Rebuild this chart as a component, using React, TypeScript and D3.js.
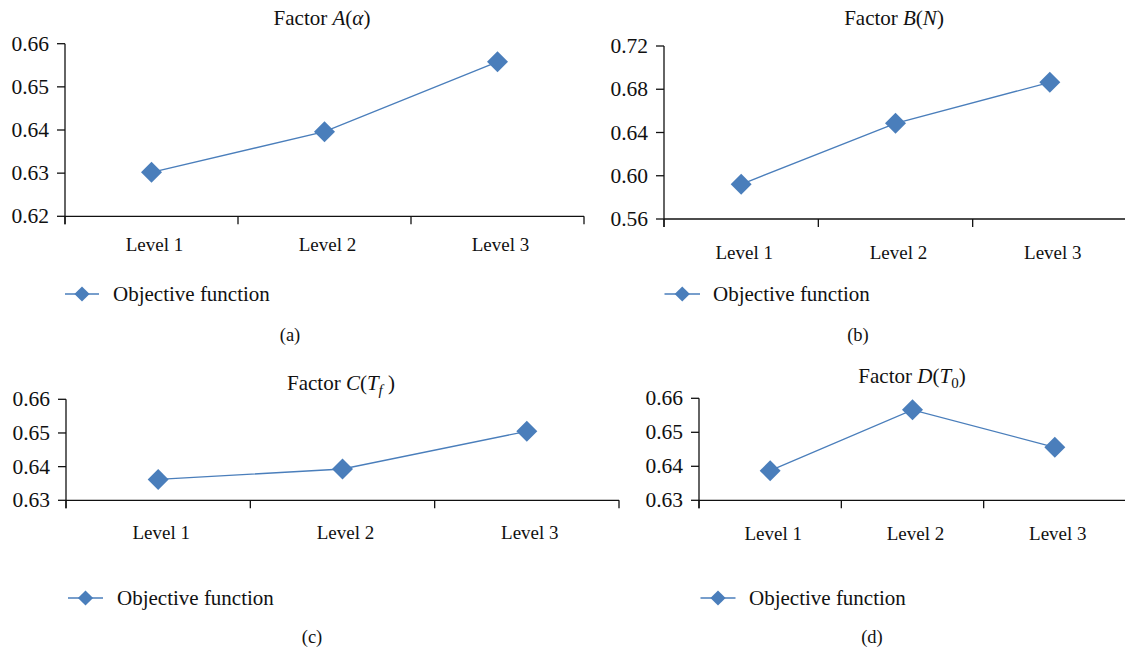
import React from "react";
import * as d3 from "d3";

const levels = ["Level 1", "Level 2", "Level 3"];
const valuesA = [0.6302, 0.6396, 0.6558];
const valuesB = [0.5921, 0.6485, 0.6864];
const valuesC = [0.6362, 0.6393, 0.6505];
const valuesD = [0.6387, 0.6566, 0.6456];
const ticksA = [0.62, 0.63, 0.64, 0.65, 0.66];
const ticksB = [0.56, 0.6, 0.64, 0.68, 0.72];
const ticksC = [0.63, 0.64, 0.65, 0.66];
const ticksD = [0.63, 0.64, 0.65, 0.66];
const legendLabel = "Objective function";
const captions = ["(a)", "(b)", "(c)", "(d)"];

const BLUE = "#4a7ebb";
const FONT = "'Liberation Serif', 'DejaVu Serif', serif";

type Layout = {
  x0: number; x1: number; yTop: number; yBot: number;
  levelY: number; legendY: number; legendX0: number; legendX1: number; legendTextX: number;
  titleX: number; titleY: number; capX: number; capY: number;
};

const layouts: Layout[] = [
  { x0: 65, x1: 584, yTop: 43.7, yBot: 216.3, levelY: 251, legendY: 294, legendX0: 65, legendX1: 99, legendTextX: 113, titleX: 322, titleY: 25, capX: 290, capY: 341 },
  { x0: 664, x1: 1127, yTop: 46, yBot: 219, levelY: 259, legendY: 294, legendX0: 664.5, legendX1: 700, legendTextX: 713, titleX: 894, titleY: 25, capX: 858, capY: 341 },
  { x0: 66, x1: 619, yTop: 399.3, yBot: 500.3, levelY: 539, legendY: 598, legendX0: 68, legendX1: 103, legendTextX: 117, titleX: 341, titleY: 390, capX: 312, capY: 643 },
  { x0: 699, x1: 1126, yTop: 398.3, yBot: 500.3, levelY: 540, legendY: 598, legendX0: 700.5, legendX1: 735.5, legendTextX: 749, titleX: 912, titleY: 383, capX: 872, capY: 643 },
];

const titles = [
  <>Factor <tspan fontStyle="italic">A</tspan>(<tspan fontStyle="italic">α</tspan>)</>,
  <>Factor <tspan fontStyle="italic">B</tspan>(<tspan fontStyle="italic">N</tspan>)</>,
  <>Factor <tspan fontStyle="italic">C</tspan>(<tspan fontStyle="italic">T</tspan><tspan fontStyle="italic" fontSize="15" dy="5">f</tspan><tspan dy="-5"> )</tspan></>,
  <>Factor <tspan fontStyle="italic">D</tspan>(<tspan fontStyle="italic">T</tspan><tspan fontSize="15" dy="5">0</tspan><tspan dy="-5">)</tspan></>,
];

const diamond = (size: number) => d3.symbol().type(d3.symbolSquare).size(size)() as string;

function Panel({ L, values, ticks, title, caption }: { L: Layout; values: number[]; ticks: number[]; title: React.ReactNode; caption: string }) {
  const x = d3.scaleBand<string>().domain(levels).range([L.x0, L.x1]).padding(0);
  const y = d3.scaleLinear().domain([ticks[0], ticks[ticks.length - 1]]).range([L.yBot, L.yTop]);
  const fmt = d3.format(".2f");
  const cx = (l: string) => (x(l) as number) + x.bandwidth() / 2;
  const line = d3.line<number>().x((_, i) => cx(levels[i])).y((v) => y(v));
  const boundaries = levels.map((l) => x(l) as number).concat([L.x1]);
  return (
    <g fontFamily={FONT} fill="#111">
      <text x={L.titleX} y={L.titleY} textAnchor="middle" fontSize={21}>{title}</text>
      {/* y axis */}
      <line x1={L.x0} x2={L.x0} y1={y(ticks[ticks.length - 1])} y2={L.yBot + 8} stroke="#111" strokeWidth={1.3} />
      {ticks.map((t) => (
        <g key={t}>
          <line x1={L.x0 - 8} x2={L.x0} y1={y(t)} y2={y(t)} stroke="#111" strokeWidth={1.3} />
          <text x={L.x0 - 16} y={y(t) + 7} textAnchor="end" fontSize={21.5}>{fmt(t)}</text>
        </g>
      ))}
      {/* x axis */}
      <line x1={L.x0} x2={L.x1} y1={L.yBot} y2={L.yBot} stroke="#111" strokeWidth={1.3} />
      {boundaries.map((b, i) => (
        <line key={i} x1={b} x2={b} y1={L.yBot} y2={L.yBot + 8} stroke="#111" strokeWidth={1.3} />
      ))}
      {levels.map((l) => (
        <text key={l} x={cx(l) + 3} y={L.levelY} textAnchor="middle" fontSize={19}>{l}</text>
      ))}
      {/* series */}
      <path d={line(values) as string} fill="none" stroke={BLUE} strokeWidth={1.3} />
      {values.map((v, i) => (
        <path key={i} d={diamond(220)} transform={`translate(${cx(levels[i])},${y(v)}) rotate(45)`} fill={BLUE} />
      ))}
      {/* legend */}
      <line x1={L.legendX0} x2={L.legendX1} y1={L.legendY} y2={L.legendY} stroke={BLUE} strokeWidth={1.3} />
      <path d={diamond(115)} transform={`translate(${(L.legendX0 + L.legendX1) / 2},${L.legendY}) rotate(45)`} fill={BLUE} />
      <text x={L.legendTextX} y={L.legendY + 7} fontSize={21}>{legendLabel}</text>
      <text x={L.capX} y={L.capY} textAnchor="middle" fontSize={18.5}>{caption}</text>
    </g>
  );
}

export default function App() {
  const all = [valuesA, valuesB, valuesC, valuesD];
  const tks = [ticksA, ticksB, ticksC, ticksD];
  return (
    <svg width={1125} height={654} style={{ position: "absolute", left: 0, top: 0, background: "#fff" }}>
      <rect width={1125} height={654} fill="#fff" />
      {layouts.map((L, i) => (
        <Panel key={i} L={L} values={all[i]} ticks={tks[i]} title={titles[i]} caption={captions[i]} />
      ))}
    </svg>
  );
}
